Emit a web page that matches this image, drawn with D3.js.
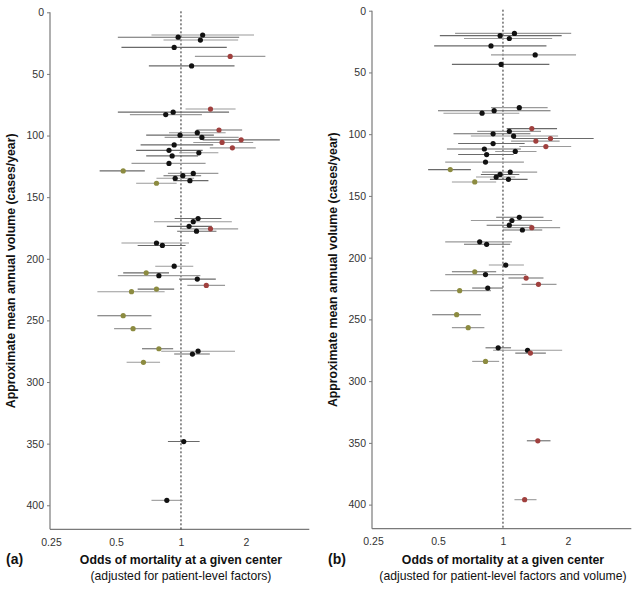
<!DOCTYPE html>
<html><head><meta charset="utf-8">
<script src="https://cdn.jsdelivr.net/npm/d3@7/dist/d3.min.js"></script>
<style>body{margin:0;background:#fff;}svg{display:block;font-family:"Liberation Sans",Arial,sans-serif;}</style>
</head><body>
<svg id="c" width="638" height="590"></svg>
<script>
// shared approximate mean annual volume (cases/year) per center
const volume = [18.4, 20.2, 22.5, 28.5, 35.8, 43.5, 78.5, 81, 83, 95.5, 97.7, 99.7, 101.5, 103.5, 105.6, 107.6, 110, 112, 114, 116.5,
  122.6, 128.7, 130.7, 132.6, 134.7, 136.6, 138.7, 167.3, 169.9, 173.7, 175.7, 177.6, 187.2, 189.2, 206, 211.4, 213.7, 216.5, 221.6,
  224.6, 226.7, 246.2, 256.7, 273, 275, 277.3, 284, 348.3, 396];

// panel (a): adjusted for patient-level factors
const orA = [1.26,0.97,1.23,0.93,1.69,1.12,1.37,0.92,0.85,1.50,1.19,0.99,1.25,1.90,1.55,0.93,1.73,0.88,1.21,0.91,
  0.88,0.54,1.14,1.02,0.94,1.10,0.77,1.20,1.14,1.09,1.37,1.18,0.77,0.82,0.93,0.69,0.79,1.19,1.31,0.77,0.59,0.54,0.60,
  0.79,1.20,1.13,0.67,1.03,0.86];
const loA = [0.73,0.51,0.83,0.53,1.16,0.71,1.05,0.51,0.58,1.18,0.88,0.69,0.84,1.26,1.14,0.65,1.36,0.62,0.98,0.69,
  0.59,0.42,0.87,0.83,0.77,0.92,0.62,0.935,0.75,0.86,1.01,0.96,0.53,0.63,0.76,0.54,0.51,0.98,1.07,0.63,0.41,0.41,0.49,
  0.66,0.81,0.93,0.56,0.87,0.73];
const hiA = [2.18,1.86,1.84,1.63,2.46,1.77,1.79,1.67,1.25,1.92,1.61,1.42,1.85,2.87,2.16,1.41,2.22,1.26,1.49,1.20,
  1.30,0.68,1.49,1.24,1.15,1.34,0.955,1.54,1.72,1.39,1.84,1.46,1.09,1.05,1.14,0.88,1.23,1.45,1.60,0.93,0.84,0.73,0.73,
  0.92,1.78,1.36,0.80,1.22,1.02];
const groupA = ["n","n","n","n","h","n","h","n","n","h","n","n","n","h","h","n","h","n","n","n",
  "n","l","n","n","n","n","l","n","n","n","h","n","n","n","n","l","n","n","h","l","l","l","l",
  "l","n","n","l","n","n"];

// panel (b): adjusted for patient-level factors and volume
const orB = [1.13,0.97,1.07,0.88,1.41,0.98,1.19,0.91,0.80,1.36,1.07,0.90,1.12,1.66,1.42,0.90,1.58,0.82,1.14,0.84,
  0.83,0.57,1.08,0.97,0.93,1.06,0.74,1.19,1.10,1.07,1.36,1.23,0.78,0.84,1.03,0.74,0.83,1.28,1.46,0.85,0.63,0.61,0.69,
  0.95,1.30,1.34,0.83,1.45,1.26];
const loB = [0.60,0.51,0.66,0.48,0.88,0.58,0.88,0.50,0.53,1.04,0.76,0.59,0.71,1.11,1.09,0.62,1.19,0.55,0.92,0.62,
  0.54,0.45,0.80,0.79,0.75,0.87,0.58,0.93,0.71,0.84,1.00,1.00,0.54,0.66,0.86,0.58,0.54,1.06,1.22,0.72,0.46,0.47,0.58,
  0.83,0.90,1.14,0.72,1.29,1.13];
const hiB = [2.07,1.87,1.69,1.59,2.18,1.64,1.61,1.66,1.19,1.78,1.50,1.34,1.80,2.63,1.83,1.26,2.07,1.21,1.43,1.12,
  1.25,0.71,1.44,1.19,1.14,1.30,0.93,1.54,1.69,1.36,1.84,1.52,1.10,1.08,1.25,0.93,1.28,1.54,1.77,1.00,0.88,0.79,0.82,
  1.09,1.88,1.58,0.96,1.66,1.43];
const groupB = ["n","n","n","n","n","n","n","n","n","h","n","n","n","h","h","n","h","n","n","n",
  "n","l","n","n","n","n","l","n","n","n","h","n","n","n","n","l","n","h","h","n","l","l","l",
  "n","n","h","l","h","h"];

const xTicks = [0.25, 0.5, 1, 2];
const yTicks = [0, 50, 100, 150, 200, 250, 300, 350, 400];
const yTitle = "Approximate mean annual volume (cases/year)";
const xTitle = "Odds of mortality at a given center";
const subA = "(adjusted for patient-level factors)";
const subB = "(adjusted for patient-level factors and volume)";

const color = d3.scaleOrdinal().domain(["n","h","l"]).range(["#111111","#a0403e","#8c8b40"]);
const svg = d3.select("#c");

function panel(cfg) {
  const {x0, yTop, yBot, or, lo, hi, grp, tag, sub, yTitleX} = cfg;
  const x = d3.scaleLog().base(2).domain([0.25, 3.93]).range([x0, x0 + 258.3]);
  const y = d3.scaleLinear().domain([0, 419.5]).range([yTop, yBot]);
  const g = svg.append("g");
  const axCol = "#7a7a7a";

  // y axis
  const ya = g.append("g").attr("transform", `translate(${x0 - 1},0)`)
    .call(d3.axisLeft(y).tickValues(yTicks).tickSize(3).tickPadding(3));
  ya.select(".domain").remove();
  ya.selectAll("line").attr("stroke", axCol);
  ya.selectAll("text").attr("fill", "#333").style("font-size", "10.5px");
  g.append("line").attr("x1", x0 - 1).attr("x2", x0 - 1).attr("y1", y(0)).attr("y2", yBot)
    .attr("stroke", axCol).attr("stroke-width", 1.2);

  // x axis
  const xa = g.append("g").attr("transform", `translate(0,${yBot})`)
    .call(d3.axisBottom(x).tickValues(xTicks).tickFormat(d => String(d)).tickSize(0).tickPadding(9));
  xa.select(".domain").remove();
  xa.selectAll("text").attr("fill", "#333").style("font-size", "10.5px");
  g.append("line").attr("x1", x0 - 1).attr("x2", x.range()[1]).attr("y1", yBot).attr("y2", yBot)
    .attr("stroke", axCol).attr("stroke-width", 1.2);

  // reference line at OR = 1
  g.append("line").attr("x1", x(1)).attr("x2", x(1)).attr("y1", y(0) - 1).attr("y2", yBot)
    .attr("stroke", "#222").attr("stroke-width", 1).attr("stroke-dasharray", "2,2");

  const idx = d3.range(volume.length);
  g.append("g").selectAll("line").data(idx).join("line")
    .attr("x1", i => x(lo[i])).attr("x2", i => x(hi[i]))
    .attr("y1", i => y(volume[i])).attr("y2", i => y(volume[i]))
    .attr("stroke", i => i % 2 ? "#6a6a6a" : "#9a9a9a").attr("stroke-width", 1.1);
  g.append("g").selectAll("circle").data(idx).join("circle")
    .attr("cx", i => x(or[i])).attr("cy", i => y(volume[i])).attr("r", 2.6)
    .attr("fill", i => color(grp[i]));

  // titles
  const cx = x(1);
  g.append("text").attr("x", cx).attr("y", 563.5).attr("text-anchor", "middle")
    .style("font-size", "12.3px").style("font-weight", "bold").attr("fill", "#111").text(xTitle);
  g.append("text").attr("x", cx).attr("y", 579.5).attr("text-anchor", "middle")
    .style("font-size", "12.2px").attr("fill", "#111").text(sub);
  g.append("text").attr("x", x0 - 45).attr("y", 563.5)
    .style("font-size", "14px").style("font-weight", "bold").attr("fill", "#111").text(tag);
  g.append("text").attr("transform", `translate(${yTitleX},${(y(0) + yBot) / 2}) rotate(-90)`)
    .attr("text-anchor", "middle").style("font-size", "12.3px").style("font-weight", "bold")
    .attr("fill", "#111").text(yTitle);
}

panel({x0: 51, yTop: 12.3, yBot: 529.3, or: orA, lo: loA, hi: hiA, grp: groupA, tag: "(a)", sub: subA, yTitleX: 14.5});
panel({x0: 373, yTop: 10.7, yBot: 528.7, or: orB, lo: loB, hi: hiB, grp: groupB, tag: "(b)", sub: subB, yTitleX: 336.5});
</script>
</body></html>
